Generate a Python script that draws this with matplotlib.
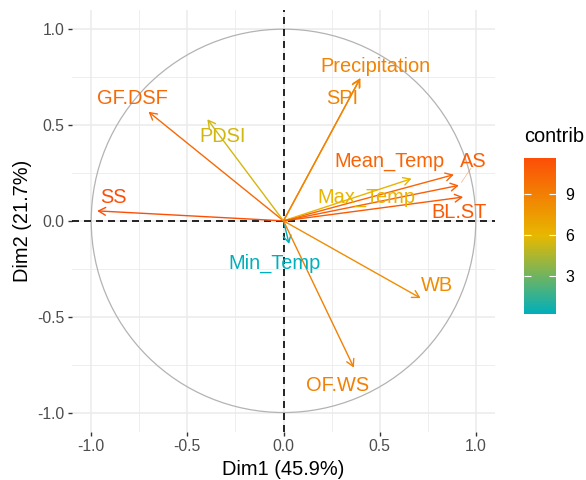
import matplotlib
matplotlib.use("Agg")
import matplotlib.pyplot as plt
from matplotlib.colors import LinearSegmentedColormap, Normalize
from matplotlib.patches import Circle
import numpy as np

# variable coordinates on Dim1 / Dim2
variables = ["SS", "GF.DSF", "PDSI", "Precipitation", "SPI", "Mean_Temp",
             "Max_Temp", "AS", "BL.ST", "Min_Temp", "WB", "OF.WS"]
dim1 = [-0.969, -0.702, -0.396, 0.400, 0.397, 0.886,
        0.666, 0.912, 0.934, 0.029, 0.713, 0.366]
dim2 = [0.052, 0.569, 0.530, 0.745, 0.740, 0.241,
        0.220, 0.185, 0.124, -0.120, -0.403, -0.766]
contrib = [11.6, 10.1, 5.4, 8.8, 8.7, 10.4,
           6.1, 10.7, 10.9, 0.2, 8.3, 8.9]

# where the (repelled) labels sit
label_pos = {
    "SS": (-0.885, 0.120),
    "GF.DSF": (-0.785, 0.640),
    "PDSI": (-0.315, 0.440),
    "Precipitation": (0.480, 0.805),
    "SPI": (0.305, 0.640),
    "Mean_Temp": (0.553, 0.310),
    "Max_Temp": (0.430, 0.122),
    "AS": (0.985, 0.312),
    "BL.ST": (0.912, 0.045),
    "Min_Temp": (-0.045, -0.222),
    "WB": (0.797, -0.337),
    "OF.WS": (0.280, -0.860),
}

plt.rcParams['font.family'] = ['Liberation Sans', 'DejaVu Sans']

cmap = LinearSegmentedColormap.from_list("contrib", ["#00AFBB", "#E7B800", "#FC4E07"])
norm = Normalize(vmin=min(contrib), vmax=max(contrib))

fig = plt.figure(figsize=(5.86, 4.8), dpi=100)
ax = fig.add_axes([72 / 586, 1 - 431.7 / 480, 423 / 586, 421.7 / 480])

ax.set_xlim(-1.1, 1.1)
ax.set_ylim(-1.1, 1.1)

#grid
for v in [-0.75, -0.25, 0.25, 0.75]:
    ax.axvline(v, color="#EBEBEB", lw=0.6, zorder=0)
    ax.axhline(v, color="#EBEBEB", lw=0.6, zorder=0)
for v in [-1.0, -0.5, 0.0, 0.5, 1.0]:
    ax.axvline(v, color="#EBEBEB", lw=1.1, zorder=0)
    ax.axhline(v, color="#EBEBEB", lw=1.1, zorder=0)

#unit circle
ax.add_patch(Circle((0, 0), 1.0, fill=False, color="#B3B3B3", lw=0.9, zorder=1))

#arrows
for name, x, y, c in zip(variables, dim1, dim2, contrib):
    col = cmap(norm(c))
    ax.annotate("", xy=(x, y), xytext=(0, 0),
                arrowprops=dict(arrowstyle="->,head_length=0.5,head_width=0.28",
                                color=col, lw=1.0, shrinkA=0, shrinkB=0),
                zorder=3)
    lx, ly = label_pos[name]
    ax.text(lx, ly, name, color=col, fontsize=14.4, ha="center", va="center", zorder=4)

# segment from AS label to its arrow
ax.plot([0.975, 0.925], [0.275, 0.200], color=cmap(norm(contrib[7])), lw=0.4, alpha=0.6, zorder=3)

#dashed axes
ax.axhline(0, color="black", lw=1.2, ls=(0, (4.2, 3)), zorder=2)
ax.axvline(0, color="black", lw=1.2, ls=(0, (4.2, 3)), zorder=2)

for s in ax.spines.values():
    s.set_visible(False)
ax.set_xticks([-1.0, -0.5, 0.0, 0.5, 1.0])
ax.set_yticks([-1.0, -0.5, 0.0, 0.5, 1.0])
ax.set_xticklabels(["-1.0", "-0.5", "0.0", "0.5", "1.0"])
ax.set_yticklabels(["-1.0", "-0.5", "0.0", "0.5", "1.0"])
ax.tick_params(length=3, width=1, color="#333333", labelcolor="#4D4D4D",
               labelsize=11.3, pad=2.5)
ax.set_xlabel("Dim1 (45.9%)", fontsize=14.4, labelpad=4)
ax.set_ylabel("Dim2 (21.7%)", fontsize=14.4, labelpad=4)

#colour bar
cax = fig.add_axes([524.3 / 586, 1 - 314 / 480, 31.4 / 586, 156 / 480])
sm = plt.cm.ScalarMappable(norm=norm, cmap=cmap)
cb = fig.colorbar(sm, cax=cax, ticks=[3, 6, 9])
cb.outline.set_visible(False)
cax.tick_params(direction="in", length=5, width=0.8, color="white",
                left=True, right=True, labelsize=11.5, labelcolor="black", pad=7)
fig.text(524.3 / 586, 1 - 137 / 480, "contrib", fontsize=14.4, ha="left", va="center")

fig.savefig("out.png", dpi=100)
